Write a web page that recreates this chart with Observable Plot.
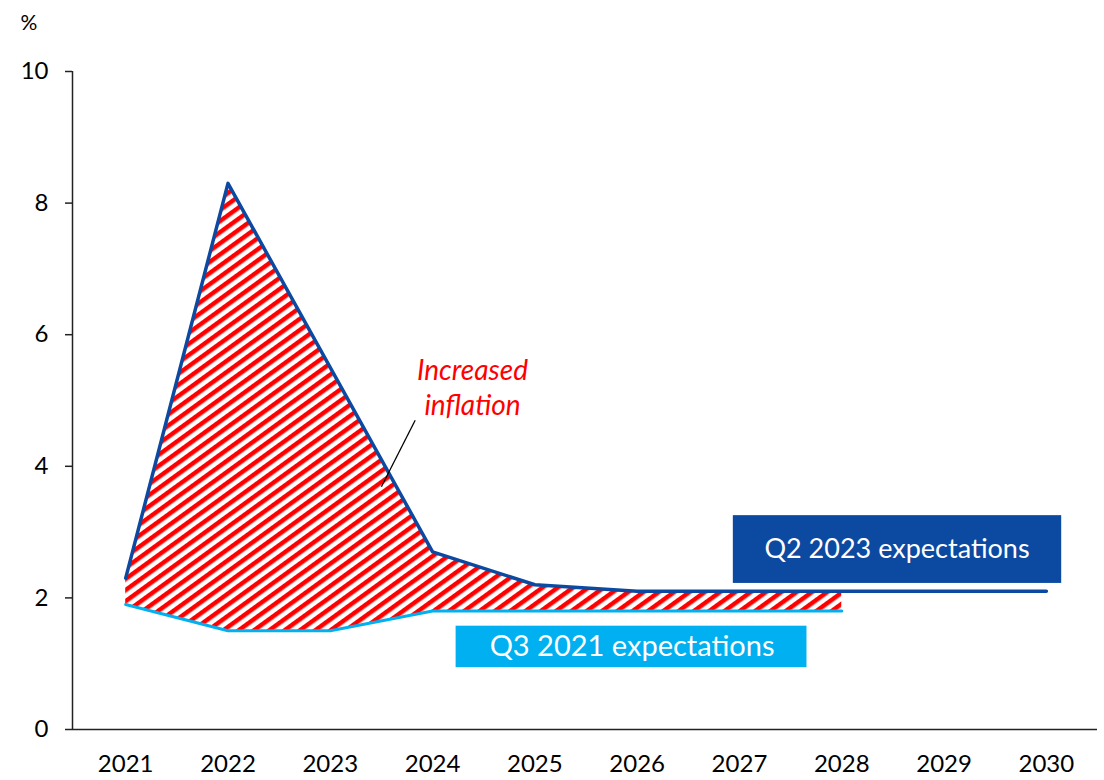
<!DOCTYPE html>
<html>
<head>
<meta charset="utf-8">
<script src="https://cdn.jsdelivr.net/npm/d3@7"></script>
<script src="https://cdn.jsdelivr.net/npm/@observablehq/plot@0.6"></script>
<style>
  html, body { margin: 0; padding: 0; background: #fff; }
  #chart svg { font-family: Lato, "Open Sans", sans-serif; }
</style>
</head>
<body>
<div id="chart"></div>
<script>
// ---- data ----
const years = [2021, 2022, 2023, 2024, 2025, 2026, 2027, 2028, 2029, 2030];
const q2_2023 = [2.3, 8.3, 5.5, 2.7, 2.2, 2.1, 2.1, 2.1, 2.1, 2.1];
const q3_2021 = [1.9, 1.5, 1.5, 1.8, 1.8, 1.8, 1.8, 1.8];
const yTicks = [0, 2, 4, 6, 8, 10];
const unitLabel = "%";
const seriesLabels = ["Q2 2023 expectations", "Q3 2021 expectations"];
const gapLabel = "Increased\ninflation";

// annotation boxes / labels in data units
const boxes = [
  {label: seriesLabels[0], x1: 2026.94, x2: 2030.15, y1: 2.22, y2: 3.25, tx: 2028.54, fill: "#0C49A1", size: 27},
  {label: seriesLabels[1], x1: 2024.23, x2: 2027.66, y1: 0.94, y2: 1.57, tx: 2025.95, fill: "#00B0F0", size: 29}
];
const leader = [{x1: 2023.83, y1: 4.70, x2: 2023.50, y2: 3.69}];
const gapText = [{x: 2024.39, y: 5.22, label: gapLabel}];

const dark = years.map((y, i) => ({year: y, v: q2_2023[i]}));
const light = q3_2021.map((v, i) => ({year: years[i], v}));
const band = q3_2021.map((v, i) => ({year: years[i], low: v, high: q2_2023[i]}));

const plot = Plot.plot({
  width: 1104,
  height: 780,
  marginTop: 71,
  marginBottom: 51,
  marginLeft: 72,
  marginRight: 7,
  style: {fontFamily: "Lato, 'Open Sans', sans-serif", background: "#fff"},
  x: {domain: [2020.48, 2030.5]},
  y: {domain: [0, 10]},
  marks: [
    Plot.areaY(band, {x: "year", y1: "low", y2: "high", fill: "url(#hatch)"}),
    Plot.line(light, {x: "year", y: "v", stroke: "#00B0F0", strokeWidth: 3}),
    Plot.line(dark, {x: "year", y: "v", stroke: "#0C49A1", strokeWidth: 3.5}),
    Plot.ruleY([0], {stroke: "#222", strokeWidth: 1.5}),
    Plot.ruleX([2020.48], {y1: 0, y2: 10, stroke: "#222", strokeWidth: 1.5}),
    Plot.axisY({ticks: yTicks, tickSize: 7, tickPadding: 17, fontSize: 24, label: null, tickFormat: d3.format("d"), stroke: "#222", strokeWidth: 1.5, color: "#000"}),
    Plot.axisX({ticks: years, tickSize: 0, tickPadding: 25, fontSize: 24, label: null, tickFormat: d3.format("d"), color: "#000"}),
    Plot.rect(boxes, {x1: "x1", x2: "x2", y1: "y1", y2: "y2", fill: "fill"}),
    Plot.text(boxes, {x: "tx", y: d => (d.y1 + d.y2) / 2, text: "label", fill: "#fff", fontSize: d => d.size}),
    Plot.link(leader, {x1: "x1", y1: "y1", x2: "x2", y2: "y2", stroke: "#000", strokeWidth: 1.3}),
    Plot.text(gapText, {x: "x", y: "y", text: "label", fill: "#FF0000", fontSize: 28, fontStyle: "italic", lineHeight: 1.25}),
    Plot.text([unitLabel], {frameAnchor: "top-left", dx: -52, dy: -56, fontSize: 21, fill: "#000", textAnchor: "start"})
  ]
});

// hatch pattern definition
const svg = d3.select(plot);
const defs = svg.insert("defs", ":first-child");
const pat = defs.append("pattern")
  .attr("id", "hatch")
  .attr("patternUnits", "userSpaceOnUse")
  .attr("width", 9).attr("height", 9)
  .attr("patternTransform", "rotate(-36)");
pat.append("rect").attr("width", 9).attr("height", 9).attr("fill", "#fff");
pat.append("rect").attr("width", 9).attr("height", 4.5).attr("fill", "#FF0000");

document.getElementById("chart").appendChild(plot);
</script>
</body>
</html>
